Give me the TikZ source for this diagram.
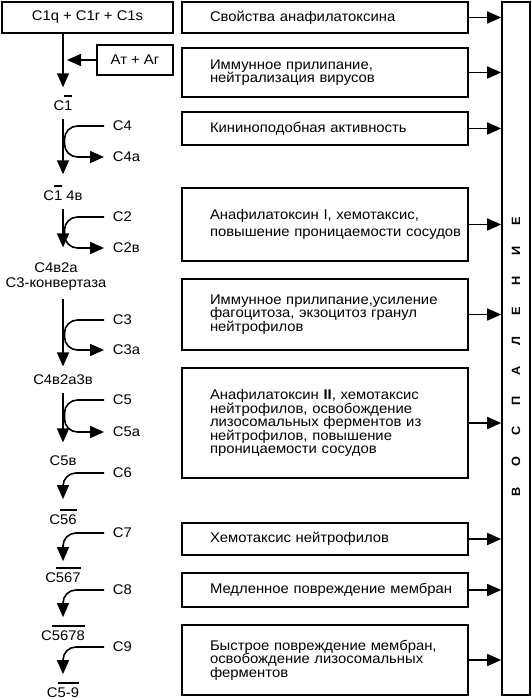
\documentclass[tikz,border=0pt]{standalone}
\usepackage{fontspec}
\setmainfont{Liberation Sans}[FakeStretch=1.06]
\usetikzlibrary{arrows.meta,positioning}

\newcommand{\topbar}[1]{\leavevmode\vbox{\hrule height 1.8pt\kern 3.5pt\hbox{#1}}}
\newcommand{\gap}{\hspace{21pt}}

\begin{document}
\begin{tikzpicture}[
  x=1pt, y=-1pt,
  font=\fontsize{14}{13.5}\selectfont,
  line width=1.6pt,
  box/.style    = {draw, rectangle, inner sep=0pt, align=center},
  effect/.style = {draw, rectangle, inner sep=0pt, text width=286pt, align=left,
                   execute at begin node={\leftskip=28pt\rightskip=-20pt plus 2em\relax}},
  stage/.style  = {inner sep=2pt, anchor=base},
  side/.style   = {anchor=west, inner xsep=8pt, inner ysep=1pt},
  arr/.style    = {-{Triangle[length=14pt,width=12pt]}},
  hook/.style   = {arr, rounded corners=13pt},
]

\useasboundingbox (0,0) rectangle (531,699);
\coordinate (sp) at (63,0);

% ── запуск каскада ──────────────────────────────────────────────
\node[box, minimum width=171pt, minimum height=31pt] (c1q) at (87.5,17.5) {C1q + C1r + C1s};
\node[box, minimum width=76pt, minimum height=30pt] (ag) at (135,60) {Ат + Аг};

% ── стадии каскада ──────────────────────────────────────────────
\node[stage] (s1)    at (63,110) {C\topbar{1}};
\node[stage] (s14)   at (63,200) {C\topbar{1} 4в};
\node[stage, align=center] (s42) at (56,287) {C4в2а\\[1.5pt]C3-конвертаза};
\node[stage] (s423)  at (63,384) {C4в2а3в};
\node[stage] (s5)    at (63,465) {C5в};
\node[stage] (s56)   at (63,524) {C\topbar{56}};
\node[stage] (s567)  at (63,582) {C\topbar{567}};
\node[stage] (s5678) at (63,640) {C\topbar{5678}};
\node[stage] (s59)   at (63,697) {C\topbar{5-9}};

% ── компоненты сбоку ────────────────────────────────────────────
\node[side] (c4)  at (104,126) {C4};
\node[side] (c4a) at (104,157) {C4a};
\node[side] (c2)  at (104,217) {C2};
\node[side] (c2b) at (104,248) {C2в};
\node[side] (c3)  at (104,320) {C3};
\node[side] (c3a) at (104,350) {C3a};
\node[side] (c5)  at (104,400) {C5};
\node[side] (c5a) at (104,432) {C5a};
\node[side] (c6)  at (104,473) {C6};
\node[side] (c7)  at (104,533) {C7};
\node[side] (c8)  at (104,590) {C8};
\node[side] (c9)  at (104,647) {C9};

\draw[arr, shorten >=5pt] (c1q.south -| sp) -- (s1.north -| sp);
\draw[arr, shorten >=4pt] (ag.west) -- (ag.west -| sp);
\draw[arr, shorten <=6pt, shorten >=8pt] (s1.south -| sp) -- (s14.north -| sp);
\draw[arr, shorten <=6pt, shorten >=12pt] (s14.south -| sp) -- (s42.north -| sp);
\draw[arr, shorten <=6pt, shorten >=5pt] (s42.south -| sp) -- (s423.north -| sp);
\draw[arr, shorten <=6pt, shorten >=10pt] (s423.south -| sp) -- (s5.north -| sp);

\draw[hook] (c4.west) -| ([xshift=1.5pt]c4a.west -| sp) -- (c4a.west);
\draw[hook] (c2.west) -| ([xshift=1.5pt]c2b.west -| sp) -- (c2b.west);
\draw[hook] (c3.west) -| ([xshift=1.5pt]c3a.west -| sp) -- (c3a.west);
\draw[hook] (c5.west) -| ([xshift=1.5pt]c5a.west -| sp) -- (c5a.west);

\draw[hook, shorten >=7pt] (c6.west) -| (s56.north -| sp);
\draw[hook, shorten >=3pt] (c7.west) -| (s567.north -| sp);
\draw[hook, shorten >=5pt] (c8.west) -| (s5678.north -| sp);
\draw[hook, shorten >=5pt] (c9.west) -| (s59.north -| sp);

% ── биологические эффекты ───────────────────────────────────────
\node[effect, minimum height=31pt]  (e1) at (325,17.5)  {Свойства анафилатоксина};
\node[effect, minimum height=49pt]  (e2) at (325,72.5)  {Иммунное прилипание,\\нейтрализация вирусов};
\node[effect, minimum height=33pt]  (e3) at (325,128.5) {Кининоподобная активность};
\node[effect, minimum height=73pt]  (e4) at (325,224.5) {Анафилатоксин I, хемотаксис,\\[3pt]повышение проницаемости сосудов};
\node[effect, minimum height=71pt]  (e5) at (325,314.5) {Иммунное прилипание,усиление\\фагоцитоза, экзоцитоз гранул\\нейтрофилов};
\node[effect, minimum height=110pt] (e6) at (325,423)   {Анафилатоксин \textbf{II}, хемотаксис\\нейтрофилов, освобождение\\лизосомальных ферментов из\\нейтрофилов, повышение\\проницаемости сосудов};
\node[effect, minimum height=32pt]  (e7) at (325,539)   {Хемотаксис нейтрофилов};
\node[effect, minimum height=34pt]  (e8) at (325,590)   {Медленное повреждение мембран};
\node[effect, minimum height=70pt]  (e9) at (325,660)   {Быстрое повреждение мембран,\\освобождение лизосомальных\\ферментов};

% ── воспаление ──────────────────────────────────────────────────
\node[box, minimum width=28pt, minimum height=693pt] (vos) at (516,348.5) {};
\node[rotate=90, font=\bfseries\fontsize{12}{12}\selectfont] (vlet) at (516,357)
  {В\gap О\gap С\gap П\gap А\gap Л\gap Е\gap Н\gap И\gap Е};

\foreach \i in {1,...,9}
  \draw[arr] (e\i.east) -- (e\i.east -| vos.west);
\end{tikzpicture}
\end{document}
